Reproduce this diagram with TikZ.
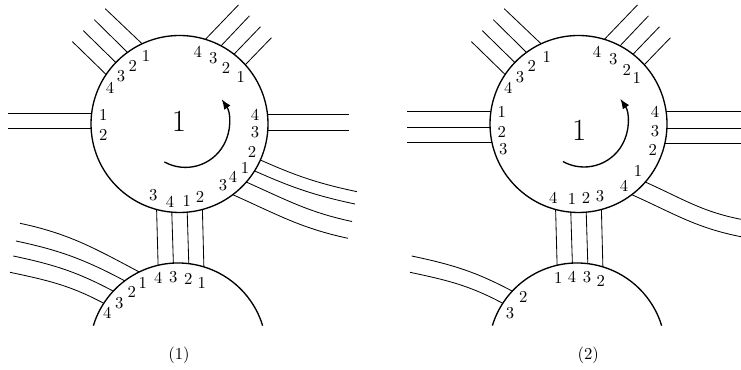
\documentclass[tikz,border=0pt]{standalone}
\usetikzlibrary{calc, arrows.meta}

\begin{document}
\begin{tikzpicture}[
    x=0.6pt, y=0.6pt,
    >={Latex[length=6pt, width=4.6pt]},
    ring/.style={
        circle, draw, line width=0.8pt,
        inner sep=0pt, outer sep=0pt, minimum size=106.2pt,
    },
    wire/.style={line width=0.5pt},
    lbl/.style={inner sep=0pt},
    bignum/.style={inner sep=0pt, font=\fontsize{18.5}{20}\selectfont},
    turn/.style={->, line width=0.8pt},
]
\useasboundingbox (0,0) rectangle (741,370);

% ---------------- panel (1) ----------------
\node[ring] (top1) at (179.5,246) {};
\node[ring, draw=none] (bot1) at (178,18.5) {};
\draw[line width=0.8pt] (bot1.163) arc[start angle=163, end angle=17, radius=88.5];

\coordinate (west1) at (8,0);
\coordinate (east1) at (349,0);

% straight bundles
\foreach \a in {173.5, 183.4}
    \draw[wire] (top1.\a) -- (top1.\a -| west1);
\foreach \a in {6.5, 356.6}
    \draw[wire] (top1.\a) -- (top1.\a -| east1);
\foreach \a/\o in {115.9/29, 126.2/13.5, 136.3/-2, 146.4/-17.5}
    \draw[wire] (top1.\a) -- ($(top1)+(45:\o)+(135:134)$);
\foreach \a/\o in {73.7/42.5, 62.8/27, 52.5/11.5, 42.4/-4}
    \draw[wire] (top1.\a) -- ($(top1)+(135:\o)+(45:126)$);
\foreach \a/\b in {255.3/103.7, 265.5/93.6, 275.5/83.5, 285.4/73.6}
    \draw[wire] (top1.\a) -- (bot1.\b);

% curved bundles
\foreach \a/\ex/\ey in {336.8/357/178.3, 328.1/355/166, 319.3/352/148.5, 307.4/348/131.7}
    \draw[wire] (top1.\a) to[out=-24, in=168] (\ex,\ey);
\foreach \a/\ex/\ey in {116.7/20/146.7, 127.6/16/129, 137/13.3/114, 147.5/10/97.7}
    \draw[wire] (bot1.\a) to[out=152, in=-12] (\ex,\ey);

% labels
\foreach \dx/\dy/\t [count=\i] in {
    -69.5/35.7/4, -58.5/48/3, -46.8/58.3/2, -33.5/68/1,
    18.2/72.3/4, 33.8/65.7/3, 46.5/56.3/2, 61.2/47.3/1,
    -76.2/9/1, -76.2/-11/2,
    75.5/9/4, 75.5/-8/3, 72.5/-28/2, 65.5/-44/1, 53.5/-53/4, 43.5/-61/3,
    -26.2/-71/3, -9.5/-77.7/4, 7.2/-76.7/1, 20.5/-72.7/2}
    \node[lbl] (ta\i) at ($(top1)+(\dx,\dy)$) {\t};
\foreach \dx/\dy/\t [count=\i] in {
    -19.7/73.2/4, -4.7/74.8/3, 10.3/72.2/2, 23.7/68.2/1,
    -35.3/68.2/1, -46.3/59.8/2, -58.7/48.2/3, -70.7/38.2/4}
    \node[lbl] (ba\i) at ($(bot1)+(\dx,\dy)$) {\t};

\node[bignum] (num1) at ($(top1)+(-0.5,2.3)$) {1};
\draw[turn] ($(top1)+(6,0.3)+(-119:43.7)$) arc[start angle=-119, end angle=34, radius=43.7];

\node (cap1) at (179,15) {(1)};

% ---------------- panel (2) ----------------
\node[ring] (top2) at (578.5,246) {};
\node[ring, draw=none] (bot2) at (577,18.5) {};
\draw[line width=0.8pt] (bot2.163) arc[start angle=163, end angle=17, radius=88.5];

\coordinate (west2) at (407,0);
\coordinate (east2) at (741,0);

% straight bundles
\foreach \a in {172.0, 182.1, 192.2}
    \draw[wire] (top2.\a) -- (top2.\a -| west2);
\foreach \a in {8.0, 357.9, 347.8}
    \draw[wire] (top2.\a) -- (top2.\a -| east2);
\foreach \a/\o in {115.9/29, 126.2/13.5, 136.3/-2, 146.4/-17.5}
    \draw[wire] (top2.\a) -- ($(top2)+(45:\o)+(135:134)$);
\foreach \a/\o in {73.7/42.5, 62.8/27, 52.5/11.5, 42.4/-4}
    \draw[wire] (top2.\a) -- ($(top2)+(135:\o)+(45:126)$);
\foreach \a/\b in {255.3/103.7, 265.5/93.6, 275.5/83.5, 285.4/73.6}
    \draw[wire] (top2.\a) -- (bot2.\b);

% curved bundles
\foreach \a/\ex/\ey in {319.3/741/150.7, 307.4/741/133.3}
    \draw[wire] (top2.\a) to[out=-24, in=169] (\ex,\ey);
\foreach \a/\ex/\ey in {137/411.7/114, 147.5/410/97.7}
    \draw[wire] (bot2.\a) to[out=152, in=-12] (\ex,\ey);

% labels
\foreach \dx/\dy/\t [count=\i] in {
    -70.2/35.7/4, -58.5/47.3/3, -46.8/58.3/2, -31.8/67.3/1,
    18.5/72/4, 34.8/65/3, 48.2/54/2, 58.2/45.7/1,
    -76.8/12.3/1, -76.8/-7.7/2, -75.2/-25.3/3,
    76.5/12.3/4, 76.5/-6.7/3, 74.2/-26/2, 59.5/-47/1, 45.5/-62/4,
    -25.2/-74/4, -6.5/-75/1, 7.5/-74/2, 21.5/-72/3}
    \node[lbl] (tb\i) at ($(top2)+(\dx,\dy)$) {\t};
\foreach \dx/\dy/\t [count=\i] in {
    -18.7/73.2/1, -5/74.8/4, 10/74.8/3, 23.7/70.8/2,
    -53.7/54.8/2, -67/38.8/3}
    \node[lbl] (bb\i) at ($(bot2)+(\dx,\dy)$) {\t};

\node[bignum] (num2) at ($(top2)+(0.8,-6)$) {1};
\draw[turn] ($(top2)+(5.6,0.7)+(-119:43.7)$) arc[start angle=-119, end angle=34, radius=43.7];

\node (cap2) at (588.3,15) {(2)};

\end{tikzpicture}
\end{document}
